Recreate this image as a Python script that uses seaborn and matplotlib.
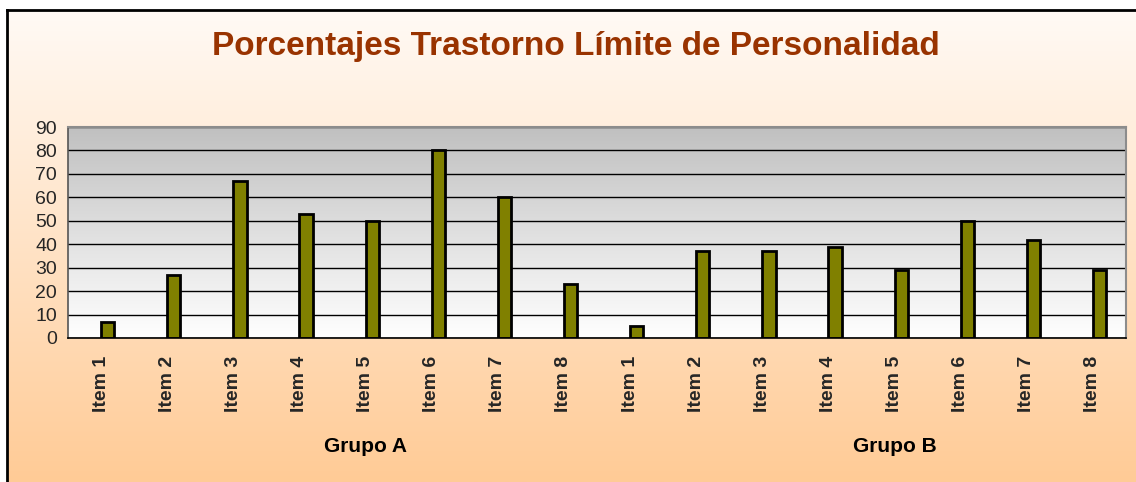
import matplotlib
matplotlib.use("Agg")
import matplotlib.pyplot as plt
import matplotlib.transforms as mtransforms
from matplotlib.colors import LinearSegmentedColormap
import numpy as np
import pandas as pd
import seaborn as sns

# data
grupos = ["Grupo A", "Grupo B"]
items = ["Item 1", "Item 2", "Item 3", "Item 4", "Item 5", "Item 6", "Item 7", "Item 8"]
grupo_a = [7, 27, 67, 53, 50, 80, 60, 23]
grupo_b = [5, 37, 37, 39, 29, 50, 42, 29]

df = pd.DataFrame({
    "grupo": [grupos[0]] * len(items) + [grupos[1]] * len(items),
    "item": items + items,
    "valor": grupo_a + grupo_b,
})
df["clave"] = df["grupo"] + " " + df["item"]

sns.set_style("white")
plt.rcParams["font.family"] = ["Liberation Sans", "DejaVu Sans"]

fig = plt.figure(figsize=(11.36, 4.82), dpi=100)
fig.patch.set_facecolor("white")

# chart area background (peach gradient) with black frame on left/top
bg = fig.add_axes([7 / 1136, 0, 1 - 7 / 1136, 1 - 10 / 482])
bg_cmap = LinearSegmentedColormap.from_list("bg", ["#FFFAF5", "#FFCB96"])
bg.imshow(np.linspace(0, 1, 256).reshape(-1, 1), cmap=bg_cmap, aspect="auto",
          extent=[0, 1, 0, 1], origin="upper")
bg.set_xticks([])
bg.set_yticks([])
for side in ["right", "bottom"]:
    bg.spines[side].set_visible(False)
for side in ["left", "top"]:
    bg.spines[side].set_color("black")
    bg.spines[side].set_linewidth(2)
bg.set_zorder(-1)

ax = fig.add_axes([68 / 1136, 1 - 338 / 482, (1126 - 68) / 1136, (338 - 127) / 482])
sns.barplot(data=df, x="clave", y="valor", color="#808000", edgecolor="black",
            linewidth=2, width=0.2, saturation=1, ax=ax)

# Excel puts the bars a bit right of the category centre
for p in ax.patches:
    p.set_x(p.get_x() + 0.1)

ax.set_xlim(-0.5, len(df) - 0.5)
ax.set_ylim(0, 90)

plot_cmap = LinearSegmentedColormap.from_list("plot", ["#C0C0C0", "#FFFFFF"])
ax.imshow(np.linspace(0, 1, 256).reshape(-1, 1), cmap=plot_cmap, aspect="auto",
          extent=[-0.5, len(df) - 0.5, 0, 90], origin="upper", zorder=0)

ax.set_axisbelow(True)
ax.yaxis.grid(True, color="black", linewidth=1)
ax.set_yticks(range(0, 91, 10))
ax.tick_params(axis="y", direction="out", length=5, width=1, color="black",
               labelsize=14, pad=3)

ax.set_xticks(range(len(df)))
ax.set_xticklabels(df["item"], rotation=90, fontsize=14, fontweight="bold")
ax.tick_params(axis="x", length=0, pad=13)
ax.set_xticks(np.arange(-0.5, len(df), 1), minor=True)
ax.tick_params(axis="x", which="minor", direction="out", length=6, width=1, color="black")

ax.set_xlabel("")
ax.set_ylabel("")

for side in ["top", "right"]:
    ax.spines[side].set_color("#8C8C8C")
    ax.spines[side].set_linewidth(1.5)
ax.spines["left"].set_color("#555555")
ax.spines["left"].set_linewidth(1.2)
ax.spines["bottom"].set_color("black")
ax.spines["bottom"].set_linewidth(1.2)

# group labels under the items
trans = mtransforms.blended_transform_factory(ax.transData, fig.transFigure)
for i, g in enumerate(grupos):
    ax.text(4 + 8 * i, 1 - 447 / 482, g, transform=trans, ha="center", va="center",
            fontsize=15, fontweight="bold", color="black")

fig.text(576 / 1136, 1 - 47 / 482, "Porcentajes Trastorno Límite de Personalidad",
         ha="center", va="center", fontsize=24, fontweight="bold", color="#993300")

fig.savefig("out.png", dpi=100)
